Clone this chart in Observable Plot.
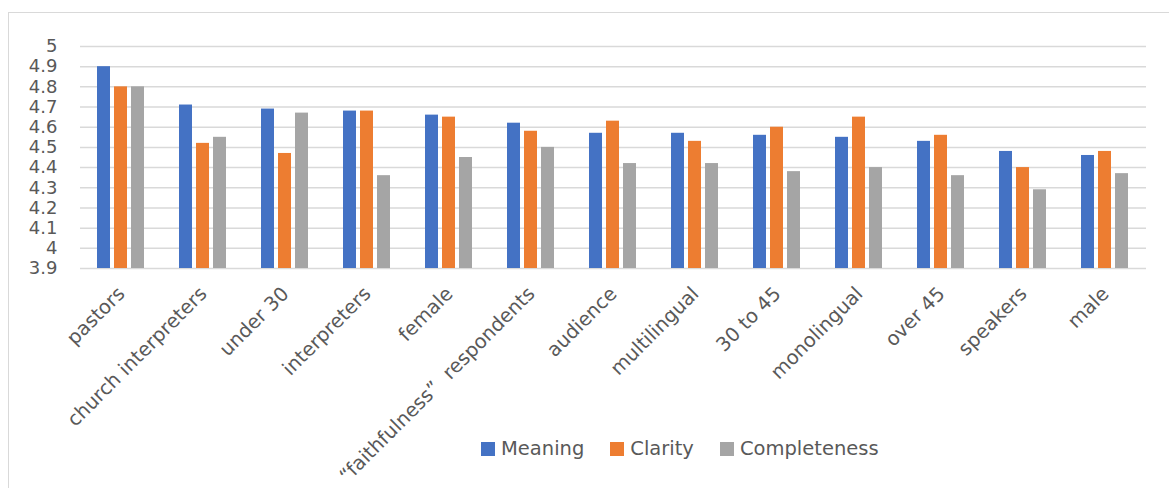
<!DOCTYPE html>
<html>
<head>
<meta charset="utf-8">
<script src="https://cdn.jsdelivr.net/npm/d3@7"></script>
<script src="https://cdn.jsdelivr.net/npm/@observablehq/plot@0.6"></script>
<style>
  html, body { margin: 0; padding: 0; background: #fff; overflow: hidden; }
  body { width: 1169px; height: 488px; position: relative; font-family: "DejaVu Sans", sans-serif; }
  #frame { position: absolute; left: 8px; top: 12px; width: 1200px; height: 520px; border: 1px solid #d9d9d9; box-sizing: border-box; }
  #chart { position: absolute; left: 0; top: 0; }
  #legend { position: absolute; left: 481px; top: 437px; display: flex; align-items: center; font-size: 19.5px; color: #595959; }
  #legend .item { display: flex; align-items: center; margin-right: 26px; }
  #legend .sw { width: 14px; height: 14px; margin-right: 6px; }
</style>
</head>
<body>
<div id="frame"></div>
<div id="chart"></div>
<div id="legend"></div>
<script>
// Respondent groups, in the order they are shown
const categories = [
  "pastors", "church interpreters", "under 30", "interpreters", "female",
  "\u201cfaithfulness\u201d  respondents", "audience", "multilingual", "30 to 45",
  "monolingual", "over 45", "speakers", "male"
];
const seriesNames = ["Meaning", "Clarity", "Completeness"];
const meaning      = [4.90, 4.71, 4.69, 4.68, 4.66, 4.62, 4.57, 4.57, 4.56, 4.55, 4.53, 4.48, 4.46];
const clarity      = [4.80, 4.52, 4.47, 4.68, 4.65, 4.58, 4.63, 4.53, 4.60, 4.65, 4.56, 4.40, 4.48];
const completeness = [4.80, 4.55, 4.67, 4.36, 4.45, 4.50, 4.42, 4.42, 4.38, 4.40, 4.36, 4.29, 4.37];
const yTicks = [3.9, 4, 4.1, 4.2, 4.3, 4.4, 4.5, 4.6, 4.7, 4.8, 4.9, 5];
const colors = ["#4472C4", "#ED7D31", "#A5A5A5"];

const valuesBySeries = [meaning, clarity, completeness];
const rows = [];
categories.forEach((c, i) => {
  seriesNames.forEach((s, j) => rows.push({category: c, series: s, value: valuesBySeries[j][i]}));
});

const chart = Plot.plot({
  width: 1169,
  height: 488,
  marginTop: 46,
  marginBottom: 220,
  marginLeft: 80,
  marginRight: 23,
  style: {fontFamily: "'DejaVu Sans', sans-serif", fontSize: "18px", color: "#595959", background: "transparent"},
  fx: {domain: categories, padding: 0, label: null},
  x: {domain: seriesNames, paddingInner: 0.222, paddingOuter: 0.889, axis: null},
  y: {domain: [3.9, 5], label: null},
  color: {domain: seriesNames, range: colors},
  marks: [
    Plot.gridY(yTicks, {stroke: "#d9d9d9", strokeOpacity: 1, strokeWidth: 1.5}),
    Plot.barY(rows, {fx: "category", x: "series", y1: 3.9, y2: "value", fill: "series"}),
    Plot.axisY(yTicks, {tickSize: 0, tickPadding: 23, tickFormat: d => String(d), fontSize: 18, label: null}),
    Plot.axisFx({anchor: "bottom", tickRotate: -45, tickSize: 0, tickPadding: 22, fontSize: 19.5, label: null})
  ]
});
document.getElementById("chart").appendChild(chart);

// Legend below the plot area
const legend = document.getElementById("legend");
seriesNames.forEach((s, j) => {
  const item = document.createElement("div");
  item.className = "item";
  const sw = document.createElement("span");
  sw.className = "sw";
  sw.style.background = colors[j];
  const label = document.createElement("span");
  label.textContent = s;
  item.appendChild(sw);
  item.appendChild(label);
  legend.appendChild(item);
});
</script>
</body>
</html>
